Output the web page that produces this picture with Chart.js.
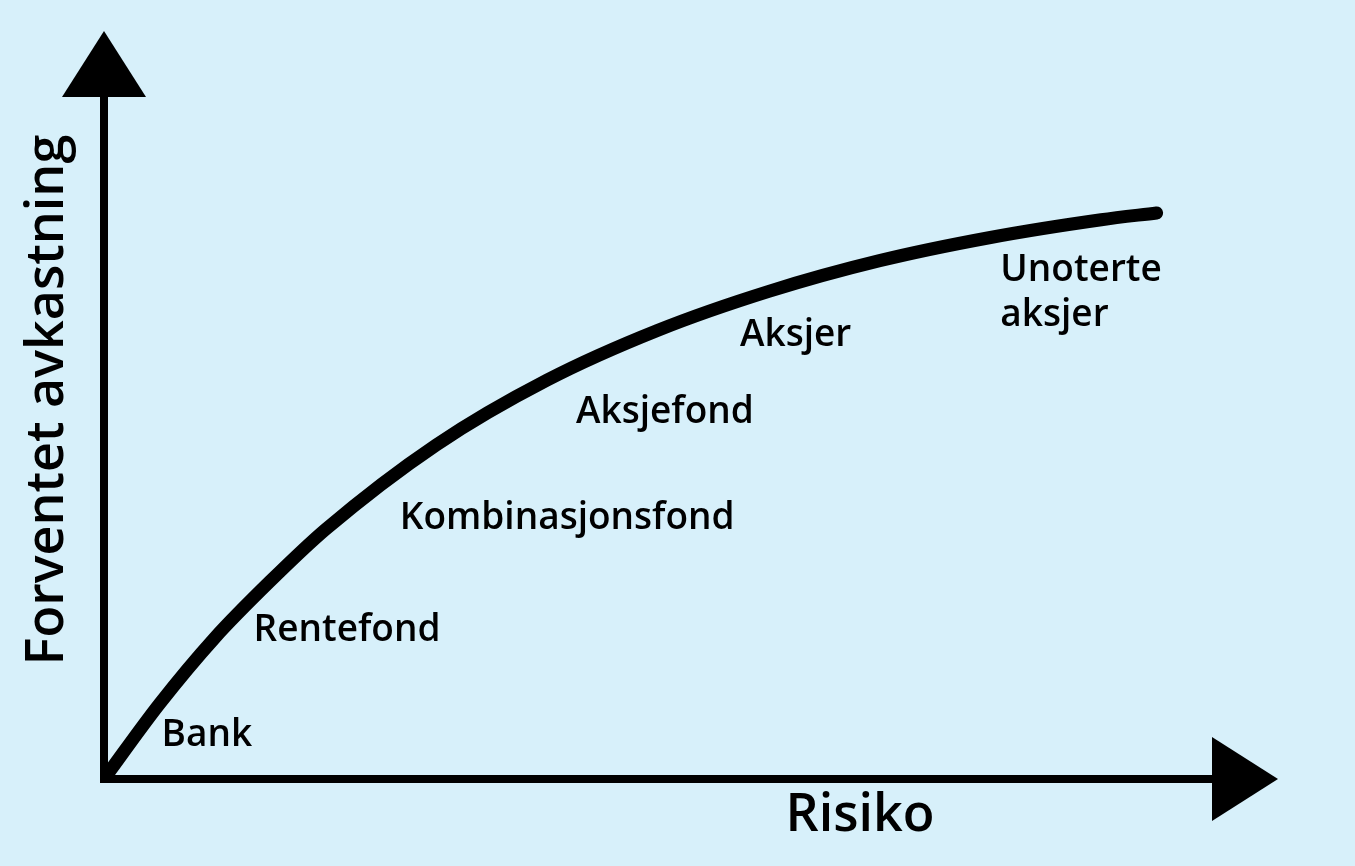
<!DOCTYPE html>
<html>
<head>
<meta charset="utf-8">
<script src="https://cdn.jsdelivr.net/npm/chart.js@4"></script>
<style>
  html, body { margin: 0; padding: 0; background: #d7f0fa; }
  #wrap { width: 1355px; height: 866px; }
</style>
</head>
<body>
<div id="wrap"><canvas id="riskChart"></canvas></div>
<script>
// Risiko (x) og forventet avkastning (y)
const risiko     = [0, 5, 10, 15, 20, 30, 40, 50, 60, 70, 80, 90, 95];
const avkastning = [0, 11, 20.7, 29, 36.6, 49, 58.5, 65.8, 71.5, 76, 79.4, 82, 83];

// Produktene og hvor teksten står (i samme enheter som aksene)
const produkter  = ['Bank', 'Rentefond', 'Kombinasjonsfond', 'Aksjefond', 'Aksjer', ['Unoterte', 'aksjer']];
const produktX   = [5.2, 13.5, 26.7, 42.6, 57.4, 80.9];
const produktY   = [6.4, 21.8, 38.2, 53.8, 65.1, 74.5];

const xTittel = 'Risiko';
const yTittel = 'Forventet avkastning';

const FONT = "'Open Sans', 'Noto Sans', sans-serif";

// Tegner bakgrunn, aksepiler, titler og produktnavn
const figurPlugin = {
    id: 'figur',
    beforeDraw(chart) {
        const { ctx, width, height } = chart;
        ctx.save();
        ctx.fillStyle = '#d7f0fa';
        ctx.fillRect(0, 0, width, height);
        ctx.restore();
    },
    afterDraw(chart) {
        const { ctx, chartArea: a, scales } = chart;
        ctx.save();
        ctx.fillStyle = '#000';
        ctx.strokeStyle = '#000';
        ctx.lineWidth = 8;

        // akser
        ctx.beginPath();
        ctx.moveTo(a.left, a.top);
        ctx.lineTo(a.left, a.bottom);
        ctx.lineTo(a.right, a.bottom);
        ctx.stroke();

        // pil opp
        ctx.beginPath();
        ctx.moveTo(a.left - 42, a.top);
        ctx.lineTo(a.left + 42, a.top);
        ctx.lineTo(a.left, a.top - 66);
        ctx.closePath();
        ctx.fill();

        // pil til høyre
        ctx.beginPath();
        ctx.moveTo(a.right, a.bottom - 42);
        ctx.lineTo(a.right, a.bottom + 42);
        ctx.lineTo(a.right + 66, a.bottom);
        ctx.closePath();
        ctx.fill();

        // aksetitler
        ctx.font = '600 52px ' + FONT;
        ctx.textAlign = 'center';
        ctx.textBaseline = 'middle';
        ctx.fillText(xTittel, 860, a.bottom + 37);

        ctx.save();
        ctx.translate(48, 400);
        ctx.rotate(-Math.PI / 2);
        ctx.font = '600 52px ' + FONT;
        ctx.fillText(yTittel, 0, 0);
        ctx.restore();

        // produktnavn
        ctx.font = '600 37px ' + FONT;
        ctx.textAlign = 'left';
        produkter.forEach((navn, i) => {
            const px = scales.x.getPixelForValue(produktX[i]);
            const py = scales.y.getPixelForValue(produktY[i]);
            const linjer = Array.isArray(navn) ? navn : [navn];
            linjer.forEach((l, j) => ctx.fillText(l, px, py + j * 45));
        });
        ctx.restore();
    }
};

new Chart(document.getElementById('riskChart'), {
    type: 'line',
    data: {
        datasets: [{
            data: risiko.map((x, i) => ({ x: x, y: avkastning[i] })),
            borderColor: '#000',
            borderWidth: 13,
            borderCapStyle: 'round',
            borderJoinStyle: 'round',
            cubicInterpolationMode: 'monotone',
            pointRadius: 0,
            fill: false
        }]
    },
    options: {
        responsive: true,
        maintainAspectRatio: false,
        animation: false,
        layout: { padding: { left: 104, right: 143, top: 97, bottom: 87 } },
        plugins: {
            legend: { display: false },
            tooltip: { enabled: false }
        },
        scales: {
            x: { type: 'linear', min: 0, max: 100, display: false },
            y: { min: 0, max: 100, display: false }
        }
    },
    plugins: [figurPlugin]
});
</script>
</body>
</html>
